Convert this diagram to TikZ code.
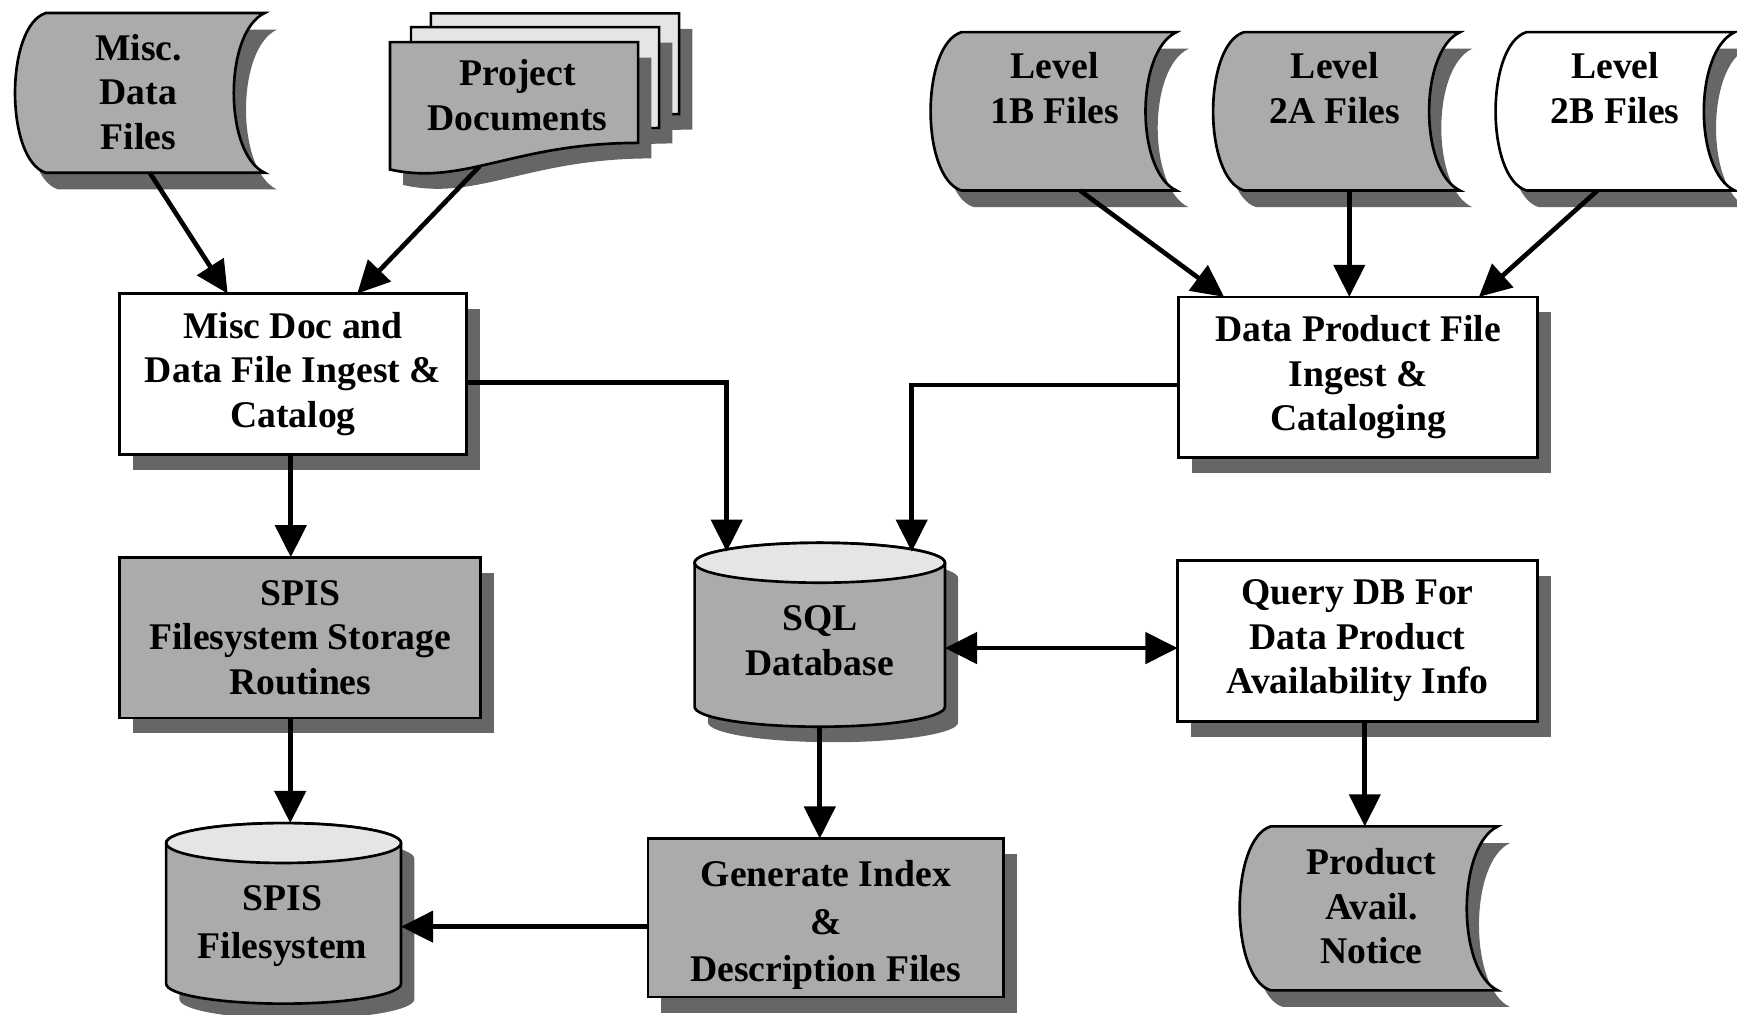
\documentclass[tikz,border=0pt]{standalone}
\usepackage{fontspec}
\setmainfont{Liberation Serif}
\usetikzlibrary{arrows.meta,calc,shadows}
\definecolor{fillgray}{gray}{0.67}
\definecolor{shadowgray}{gray}{0.40}
\definecolor{lightfill}{gray}{0.90}

% stored-data shape drawn on the box of node #1, bulge #2, style #3
\newcommand\sdshape[3]{%
 \path[#3] let \p1=(#1.north west), \p2=(#1.south east), \n1={\y1-\y2} in
  (\x1+#2pt,\y1) -- (\x2,\y1)
  .. controls (\x2-1.33*#2pt,\y1-0.12*\n1) and (\x2-1.33*#2pt,\y2+0.12*\n1) .. (\x2,\y2)
  -- (\x1+#2pt,\y2)
  .. controls (\x1-0.33*#2pt,\y2+0.08*\n1) and (\x1-0.33*#2pt,\y1-0.08*\n1) .. (\x1+#2pt,\y1) -- cycle;}

% cylinder on the box of node #1, ellipse half height #2, style #3
\newcommand\cylshape[3]{%
 \path[#3] let \p1=(#1.north west), \p2=(#1.south east), \n1={(\x2-\x1)/2} in
  (\x1,\y1-#2pt) -- (\x1,\y2+#2pt) arc[start angle=180,end angle=360,x radius=\n1,y radius=#2pt]
  -- (\x2,\y1-#2pt) arc[start angle=0,end angle=180,x radius=\n1,y radius=#2pt] -- cycle;
 \path[draw,line width=2.4pt,fill=lightfill] let \p1=(#1.north west), \p2=(#1.south east),
   \n1={(\x2-\x1)/2}, \n2={(\x1+\x2)/2} in
  (\n2,\y1-#2pt) ellipse[x radius=\n1,y radius=#2pt];}

% document page with wavy bottom, box of node #1 shifted by (#2,#3), style #4
\newcommand\docpage[4]{%
 \path[#4] let \p1=(#1.north west), \p2=(#1.south east), \n1={\x2-\x1} in
  (\x1+#2pt,\y1+#3pt) -- (\x2+#2pt,\y1+#3pt) -- (\x2+#2pt,\y2+24pt+#3pt)
  .. controls (\x2+#2pt-0.5*\n1,\y2+24pt+#3pt) and (\x1+#2pt+0.3*\n1,\y2-15pt+#3pt) .. (\x1+#2pt,\y2+#3pt) -- cycle;}

\begin{document}
\begin{tikzpicture}[x=1pt,y=-1pt,
  txt/.style={font=\fontsize{34}{40}\selectfont\bfseries,align=center,inner sep=0pt},
  widetxt/.style={font=\fontsize{34}{42.5}\selectfont\bfseries,align=center,inner sep=0pt},
  boxsize/.style 2 args={minimum width=#1pt,minimum height=#2pt,inner sep=0pt,outer sep=0pt},
  shadowA/.style={drop shadow={shadow xshift=12pt,shadow yshift=-14pt,fill=shadowgray,opacity=1}},
  shadowB/.style={drop shadow={shadow xshift=11pt,shadow yshift=-15pt,fill=shadowgray,opacity=1}},
  procbox/.style={draw,line width=2.4pt,txt,shadowA},
  sdstyle/.style={draw,line width=2.4pt,shadowB},
  arr/.style={line width=4.2pt,-{Triangle[length=29pt,width=28pt]}},
  dblarr/.style={line width=4.2pt,{Triangle[length=29pt,width=28pt]}-{Triangle[length=29pt,width=28pt]}}]
\useasboundingbox (0,0) rectangle (1568,916);

% ---------- frames of the non-rectangular shapes ----------
\node[boxsize={225.5}{144.3}] (misc) at (126.25,83.85) {};
\node[boxsize={224}{115}] (proj) at (464,95.5) {};
\node[boxsize={222}{143}] (L1B) at (951,100.5) {};
\node[boxsize={223}{143}] (L2A) at (1206.5,100.5) {};
\node[boxsize={216}{143}] (L2B) at (1458,100.5) {};
\node[boxsize={233}{148}] (product) at (1235.5,820) {};
\node[boxsize={226}{166}] (sql) at (740,573) {};
\node[boxsize={212}{163}] (spisfs) at (256,824.5) {};

% ---------- shapes ----------
\sdshape{misc}{28}{sdstyle,fill=fillgray}
\docpage{proj}{37}{26}{draw,line width=2.2pt,fill=lightfill,shadowA}
\docpage{proj}{19}{13.5}{draw,line width=2.2pt,fill=lightfill,shadowA}
\docpage{proj}{0}{0}{draw,line width=2.4pt,fill=fillgray,shadowA}
\sdshape{L1B}{28}{sdstyle,fill=fillgray}
\sdshape{L2A}{28}{sdstyle,fill=fillgray}
\sdshape{L2B}{28}{sdstyle,fill=white}
\sdshape{product}{28}{sdstyle,fill=fillgray}
\cylshape{sql}{18}{draw,line width=2.4pt,fill=fillgray,shadowA}
\cylshape{spisfs}{18}{draw,line width=2.4pt,fill=fillgray,shadowA}

% ---------- texts on the shapes ----------
\node[txt] (miscT) at (125,83) {Misc.\\Data\\Files};
\node[txt] (projT) at (467,86) {Project\\Documents};
\node[txt] (L1BT) at (952,79.5) {Level\\1B Files};
\node[txt] (L2AT) at (1205,79.5) {Level\\2A Files};
\node[txt] (L2BT) at (1458,79.5) {Level\\2B Files};
\node[txt] (productT) at (1238,818) {Product\\Avail.\\Notice};
\node[txt] (sqlT) at (740,578.5) {SQL\\Database};
\node[widetxt] (spisfsT) at (255,836) {SPIS\\Filesystem};

% ---------- process boxes ----------
\node[procbox,fill=white,boxsize={313}{145}] (miscdoc) at (264.5,337.5)
  {Misc Doc and\\Data File Ingest \&\\Catalog};
\node[procbox,fill=white,boxsize={324}{145}] (dataprod) at (1226,340.5)
  {Data Product File\\Ingest \&\\Cataloging};
\node[procbox,fill=fillgray,boxsize={326}{145}] (storage) at (271,575.5)
  {SPIS\\Filesystem Storage\\Routines};
\node[procbox,fill=white,boxsize={325}{145}] (query) at (1225.5,578.5)
  {Query DB For\\Data Product\\Availability Info};
\node[procbox,fill=fillgray,boxsize={321}{143}] (genindex) at (745.5,828.5) {};
\node[widetxt] (genindexT) at (745.5,835) {Generate Index\\\&\\Description Files};

% ---------- connectors ----------
\draw[arr] ([xshift=9pt]misc.south) -- ([xshift=-59pt]miscdoc.north);
\draw[arr] ([xshift=-31pt,yshift=3pt]proj.south) -- ([xshift=58pt]miscdoc.north);
\draw[arr] ([xshift=24pt]L1B.south) -- ([xshift=-121pt]dataprod.north);
\draw[arr] ([xshift=11.5pt]L2A.south) -- ([xshift=11.5pt]L2A.south |- dataprod.north);
\draw[arr] ([xshift=-16pt]L2B.south) -- ([xshift=109pt]dataprod.north);
\draw[arr] ([yshift=-8pt]miscdoc.east) -| ([xshift=-84pt,yshift=-8pt]sql.north);
\draw[arr] ([yshift=-7pt]dataprod.west) -| ([xshift=83pt,yshift=-8pt]sql.north);
\draw[arr] ([xshift=-2pt]miscdoc.south) -- ([xshift=-2pt]miscdoc.south |- storage.north);
\draw[arr] ([xshift=6pt]spisfs.north |- storage.south) -- ([xshift=6pt]spisfs.north);
\draw[arr] (sql.south) -- (sql.south |- genindex.north);
\draw[arr] ([yshift=-8pt]genindex.west) -- ([yshift=-8pt]genindex.west -| spisfs.east);
\draw[dblarr] ([yshift=-12pt]sql.east) -- ([yshift=-12pt]sql.east -| query.west);
\draw[arr] ([xshift=6.5pt]query.south) -- ([xshift=6.5pt]query.south |- product.north);
\end{tikzpicture}
\end{document}
